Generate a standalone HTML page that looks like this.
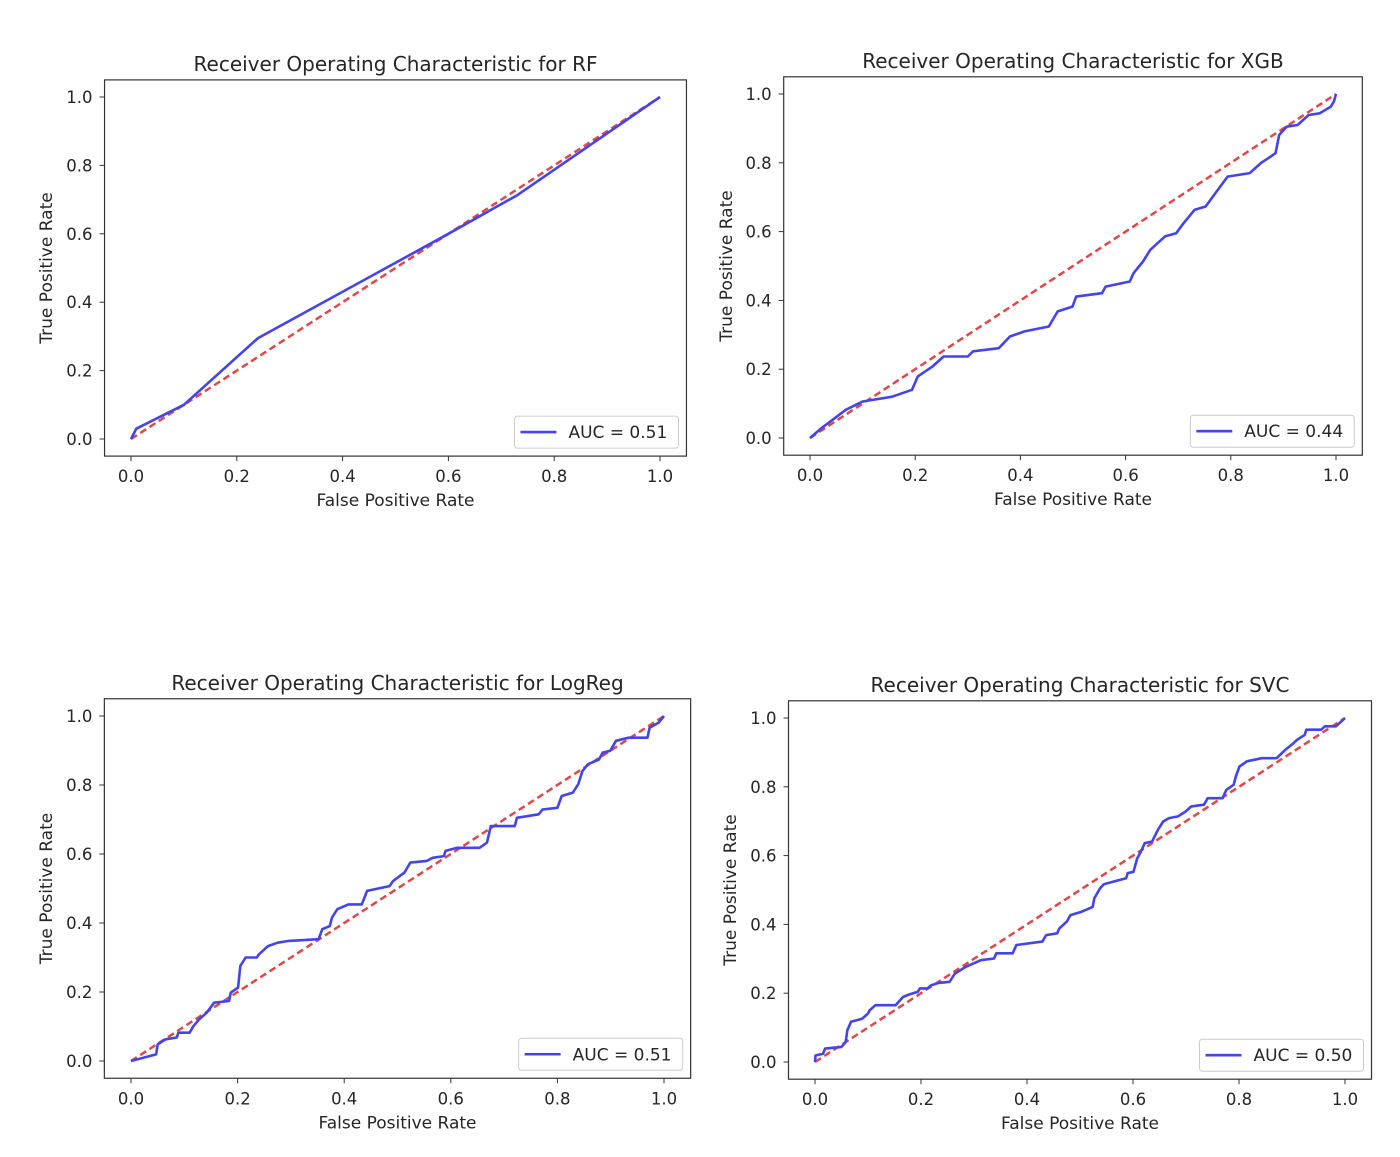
<!DOCTYPE html>
<html><head><meta charset="utf-8"><style>
html,body{margin:0;padding:0;background:#fff;}
svg{display:block;font-family:"DejaVu Sans","Liberation Sans",sans-serif;}
</style></head><body>
<svg id="fig" width="1400" height="1157" viewBox="0 0 1400 1157" xmlns="http://www.w3.org/2000/svg"></svg>
<script>
const tickValues = [0, 0.2, 0.4, 0.6, 0.8, 1.0];
const tickLabels = ["0.0", "0.2", "0.4", "0.6", "0.8", "1.0"];

const rfModel = "RF";
const rfAuc = "0.51";
const rfFpr = [0, 0.01, 0.1, 0.24, 0.6, 0.73, 1];
const rfTpr = [0, 0.03, 0.1, 0.295, 0.6, 0.713, 1];

const xgbModel = "XGB";
const xgbAuc = "0.44";
const xgbFpr = [0,0.022,0.043,0.068,0.1,0.156,0.194,0.205,0.233,0.254,0.3,0.31,0.359,0.38,0.408,0.454,0.471,0.499,0.506,0.555,0.562,0.608,0.615,0.633,0.647,0.675,0.696,0.71,0.731,0.752,0.78,0.794,0.836,0.857,0.871,0.885,0.892,0.906,0.927,0.948,0.969,0.99,0.996,1];
const xgbTpr = [0,0.029,0.053,0.082,0.106,0.12,0.14,0.179,0.208,0.237,0.237,0.252,0.261,0.295,0.31,0.324,0.368,0.382,0.411,0.421,0.44,0.455,0.479,0.513,0.547,0.586,0.595,0.624,0.663,0.673,0.731,0.76,0.77,0.799,0.813,0.828,0.881,0.905,0.91,0.939,0.944,0.963,0.978,1];

const lrModel = "LogReg";
const lrAuc = "0.51";
const lrFpr = [0,0.047,0.05,0.065,0.086,0.089,0.11,0.117,0.128,0.142,0.156,0.184,0.187,0.201,0.205,0.215,0.236,0.24,0.257,0.275,0.296,0.352,0.359,0.373,0.377,0.387,0.408,0.433,0.443,0.485,0.492,0.513,0.524,0.555,0.566,0.587,0.59,0.612,0.654,0.668,0.675,0.72,0.724,0.765,0.772,0.8,0.808,0.829,0.839,0.847,0.857,0.878,0.885,0.899,0.91,0.934,0.969,0.973,0.99,1];
const lrTpr = [0,0.019,0.048,0.063,0.068,0.082,0.082,0.101,0.121,0.14,0.169,0.174,0.198,0.213,0.275,0.3,0.3,0.309,0.333,0.343,0.348,0.353,0.382,0.391,0.415,0.44,0.454,0.454,0.493,0.507,0.522,0.546,0.575,0.58,0.589,0.594,0.609,0.618,0.618,0.633,0.681,0.681,0.705,0.715,0.729,0.734,0.768,0.778,0.802,0.841,0.86,0.874,0.894,0.899,0.928,0.937,0.937,0.966,0.981,1];

const svcModel = "SVC";
const svcAuc = "0.50";
const svcFpr = [0,0.001,0.015,0.019,0.05,0.058,0.061,0.068,0.089,0.1,0.103,0.114,0.152,0.166,0.177,0.194,0.198,0.212,0.219,0.233,0.254,0.264,0.285,0.313,0.338,0.342,0.373,0.38,0.429,0.436,0.457,0.461,0.475,0.482,0.503,0.524,0.527,0.538,0.545,0.562,0.587,0.59,0.601,0.608,0.615,0.622,0.636,0.647,0.657,0.668,0.685,0.699,0.71,0.734,0.741,0.769,0.776,0.79,0.794,0.801,0.815,0.843,0.871,0.881,0.888,0.903,0.91,0.924,0.927,0.955,0.962,0.983,1];
const svcTpr = [0,0.019,0.024,0.039,0.044,0.058,0.092,0.117,0.126,0.141,0.15,0.165,0.165,0.189,0.196,0.204,0.214,0.214,0.223,0.23,0.233,0.257,0.277,0.296,0.301,0.316,0.316,0.34,0.35,0.369,0.374,0.388,0.408,0.427,0.437,0.451,0.476,0.505,0.517,0.524,0.534,0.549,0.553,0.592,0.612,0.636,0.641,0.675,0.699,0.709,0.714,0.728,0.743,0.748,0.767,0.767,0.791,0.806,0.83,0.859,0.874,0.883,0.883,0.898,0.908,0.927,0.937,0.951,0.966,0.966,0.976,0.976,1];

const NS = "http://www.w3.org/2000/svg";
const fig = document.getElementById("fig");
function mk(tag, attrs, parent) {
  const e = document.createElementNS(NS, tag);
  for (const k in attrs) e.setAttribute(k, attrs[k]);
  (parent || fig).appendChild(e);
  return e;
}

function panel(key, model, auc, fpr, tpr, L) {
  const g = mk("g", {});
  
  
  const sx = v => L.x0 + v * (L.x1 - L.x0);
  const sy = v => L.y0 + v * (L.y1 - L.y0);
  const left = sx(-0.05), right = sx(1.05), top = sy(1.05), bottom = sy(-0.05);

  const t = mk("text", {x: (left + right) / 2, y: top - 9, "text-anchor": "middle", "font-size": 20, fill: "#262626"}, g);
  t.textContent = "Receiver Operating Characteristic for " + model;
  
  

  tickValues.forEach((v, i) => {
    mk("line", {x1: sx(v), x2: sx(v), y1: bottom, y2: bottom + 5, stroke: "#333", "stroke-width": 1}, g);
    const xt = mk("text", {x: sx(v), y: bottom + 26, "text-anchor": "middle", "font-size": 16.5, fill: "#262626"}, g);
    xt.textContent = tickLabels[i];
    
    
    mk("line", {x1: left - 5, x2: left, y1: sy(v), y2: sy(v), stroke: "#333", "stroke-width": 1}, g);
    const yt = mk("text", {x: left - 12, y: sy(v) + 6, "text-anchor": "end", "font-size": 16.5, fill: "#262626"}, g);
    yt.textContent = tickLabels[i];
    
    
  });

  const xl = mk("text", {x: (left + right) / 2, y: bottom + 50, "text-anchor": "middle", "font-size": 17, fill: "#262626"}, g);
  xl.textContent = "False Positive Rate";
  
  
  const ymid = (top + bottom) / 2;
  const yl = mk("text", {x: L.ylabX, y: ymid, "text-anchor": "middle", "font-size": 17, fill: "#262626", transform: "rotate(-90 " + L.ylabX + " " + ymid + ")"}, g);
  yl.textContent = "True Positive Rate";
  
  

  const d = mk("line", {x1: sx(0), y1: sy(0), x2: sx(1), y2: sy(1), stroke: "#e04848", "stroke-width": 2.5, "stroke-dasharray": "7,4"}, g);
  
  

  const pts = fpr.map((v, i) => sx(v).toFixed(1) + "," + sy(tpr[i]).toFixed(1)).join(" ");
  const c = mk("polyline", {points: pts, fill: "none", stroke: "#4444ee", "stroke-width": 2.6, "stroke-linejoin": "round"}, g);
  
  

  mk("rect", {x: left, y: top, width: right - left, height: bottom - top, fill: "none", stroke: "#333", "stroke-width": 1.2}, g);

  const lg = mk("g", {}, g);
  
  
  const lw = 164, lh = 32, lx = right - 8 - lw, ly = bottom - 8 - lh;
  mk("rect", {x: lx, y: ly, width: lw, height: lh, rx: 3, fill: "#fff", stroke: "#ccc", "stroke-width": 1}, lg);
  mk("line", {x1: lx + 6, x2: lx + 42, y1: ly + lh / 2, y2: ly + lh / 2, stroke: "#4444ee", "stroke-width": 2.6}, lg);
  const lt = mk("text", {x: lx + 54, y: ly + lh / 2 + 6, "font-size": 17, fill: "#262626"}, lg);
  lt.textContent = "AUC = " + auc;
}

panel("rf", rfModel, rfAuc, rfFpr, rfTpr, {x0: 131, x1: 660, y0: 439, y1: 97, ylabX: 52});
panel("xgb", xgbModel, xgbAuc, xgbFpr, xgbTpr, {x0: 810, x1: 1336, y0: 438, y1: 94, ylabX: 732});
panel("logreg", lrModel, lrAuc, lrFpr, lrTpr, {x0: 131, x1: 664, y0: 1061, y1: 716, ylabX: 52});
panel("svc", svcModel, svcAuc, svcFpr, svcTpr, {x0: 815, x1: 1345, y0: 1062, y1: 718, ylabX: 736});
</script>
</body></html>
